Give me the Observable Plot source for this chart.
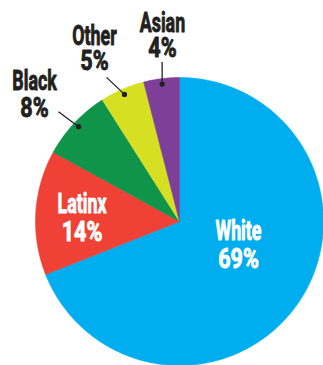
<!DOCTYPE html>
<html><head><meta charset="utf-8">
<script src="https://cdn.jsdelivr.net/npm/d3@7"></script>
<script src="https://cdn.jsdelivr.net/npm/@observablehq/plot@0.6"></script>
<style>
html,body{margin:0;padding:0;background:#fff;}
#chart{width:323px;height:365px;overflow:hidden;}
</style></head><body><div id="chart"></div>
<script>
// Data (clockwise from 12 o'clock)
const groups = ["White", "Latinx", "Black", "Other", "Asian"];
const shares = [69, 14, 8, 5, 4];
const pctLabels = ["69%", "14%", "8%", "5%", "4%"];
const colors = ["#00aeef", "#ef4136", "#10944a", "#d7df23", "#7e3f98"];

// Layout (code, not data)
const W = 323, H = 365, cx = 179, cy = 221, R = 144;
const total = d3.sum(shares);
const rad = a => a * Math.PI / 180;
const pt = (a, r) => [r * Math.sin(rad(a)), r * Math.cos(rad(a))];

let acc = 0;
const slices = groups.map((g, i) => {
  const a0 = acc / total * 360; acc += shares[i];
  const a1 = acc / total * 360;
  return {g, i, a0, a1, mid: (a0 + a1) / 2};
});

const poly = [];
for (const s of slices) {
  poly.push({g: s.g, x: 0, y: 0});
  const n = Math.max(2, Math.ceil((s.a1 - s.a0) / 0.5));
  for (let k = 0; k <= n; k++) {
    const [x, y] = pt(s.a0 + (s.a1 - s.a0) * k / n, R);
    poly.push({g: s.g, x, y});
  }
  poly.push({g: s.g, x: 0, y: 0});
}

// outer labels: offsets (px, y up) from the slice dot
const outerLayout = {
  Asian: {lead: [0, 22], text: [0.3, 52.4], gap: 25},
  Other: {lead: [-18, 17], text: [-30, 49.3], gap: 25},
  Black: {lead: [-20, 15], text: [-44, 36.2], gap: 26.5}
};
// inner labels: first-line baseline (px, y up) relative to the centre
const innerLayout = {
  White: {text: [59, -18.3], gap: 27.7},
  Latinx: {text: [-97.5, 8.7], gap: 27.7}
};

const leaders = [], words = [], pcts = [];
for (const s of slices) {
  let x, y, gap, inner;
  if (outerLayout[s.g]) {
    const [dx, dy] = pt(s.mid, 138.5);
    const L = outerLayout[s.g];
    leaders.push({x1: dx, y1: dy, x2: dx + L.lead[0], y2: dy + L.lead[1]});
    x = dx + L.text[0]; y = dy + L.text[1]; gap = L.gap; inner = false;
  } else {
    const L = innerLayout[s.g];
    x = L.text[0]; y = L.text[1]; gap = L.gap; inner = true;
  }
  words.push({x, y, text: s.g, inner});
  pcts.push({x, y: y - gap, text: pctLabels[s.i], inner});
}

const textOpts = {
  x: "x", y: "y", text: "text",
  fill: d => d.inner ? "#ffffff" : "#231f20",
  stroke: d => d.inner ? "#ffffff" : "#231f20",
  strokeWidth: 0.9,
  fontSize: 27, fontWeight: 700, fontFamily: "Roboto, 'DejaVu Sans Condensed', sans-serif",
  lineAnchor: "bottom", textAnchor: "middle"
};

const chart = Plot.plot({
  width: W, height: H,
  margin: 0,
  style: {background: "#fff", overflow: "hidden"},
  x: {type: "linear", domain: [-cx, W - cx], range: [0, W], axis: null},
  y: {type: "linear", domain: [-(H - cy), cy], range: [H, 0], axis: null},
  color: {domain: groups, range: colors},
  marks: [
    Plot.line(poly, {x: "x", y: "y", z: "g", fill: "g", stroke: "g", strokeWidth: 0.6, curve: "linear"}),
    Plot.link(leaders, {x1: "x1", y1: "y1", x2: "x2", y2: "y2", stroke: "#231f20", strokeWidth: 1.3}),
    Plot.dot(leaders, {x: "x1", y: "y1", r: 2.6, fill: "#231f20", stroke: null}),
    Plot.text(words, {...textOpts, className: "word"}),
    Plot.text(pcts, {...textOpts, className: "pct"})
  ]
});
document.getElementById("chart").appendChild(chart);
// condense glyphs horizontally, keeping text as text
d3.select(chart).selectAll("g.word text").each(function() {
  this.setAttribute("transform", (this.getAttribute("transform") || "") + " scale(0.66,1)");
});
d3.select(chart).selectAll("g.pct text").each(function() {
  this.setAttribute("transform", (this.getAttribute("transform") || "") + " scale(0.8,1)");
});
</script>
</body></html>
